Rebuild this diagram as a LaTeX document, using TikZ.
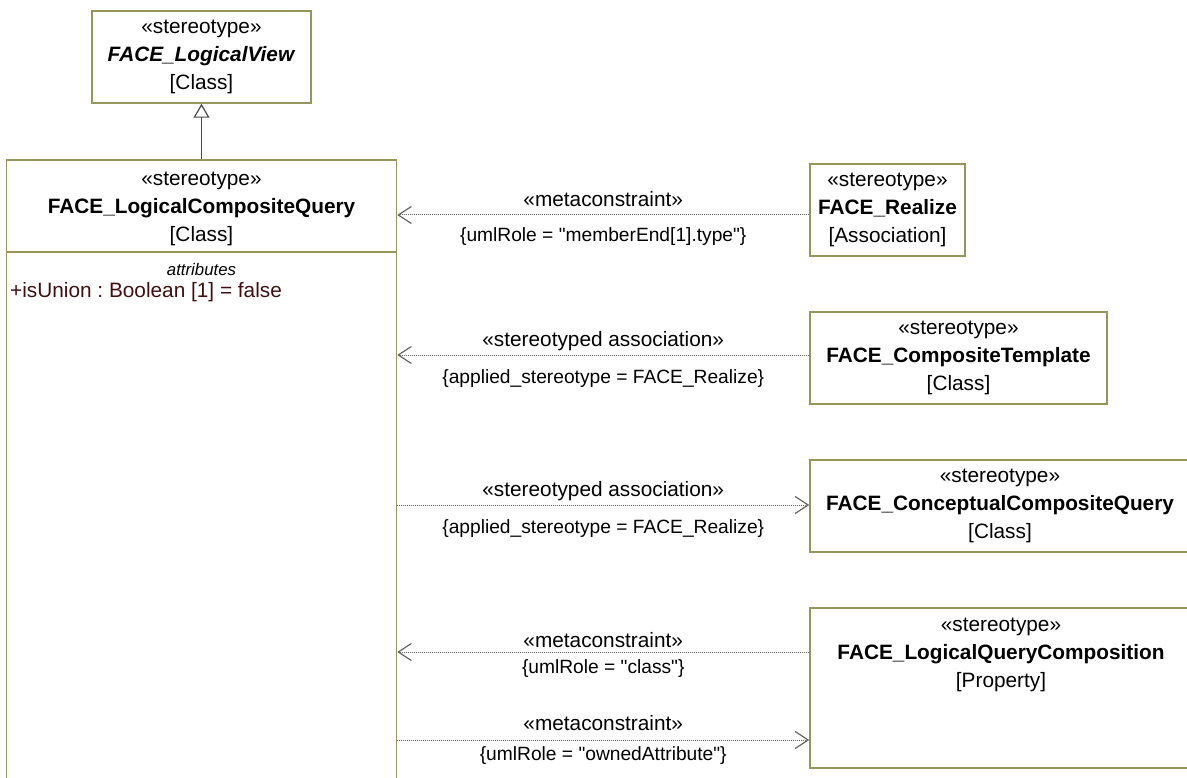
\documentclass[tikz,border=0pt]{standalone}
\usepackage{fontspec}
\setmainfont{Liberation Sans}
\usetikzlibrary{arrows.meta}
\definecolor{umlolive}{RGB}{150,150,92}
\definecolor{umlgray}{RGB}{100,100,100}
\definecolor{umldark}{RGB}{75,75,75}
\definecolor{attrred}{RGB}{64,16,16}
\frenchspacing

\begin{document}
\begin{tikzpicture}[x=1pt, y=-1pt, font=\fontsize{20.8}{27.8}\selectfont]
  \tikzstyle{umlbox} = [draw=umlolive, line width=1.5pt, fill=white, align=center, inner sep=0pt]
  \tikzstyle{conn} = [draw=umlgray, densely dotted, line width=1pt]
  \tikzstyle{barb} = [-{Straight Barb[length=13pt, width=17pt, line width=1.2pt]}]
  \tikzstyle{stereo} = [midway, anchor=base, inner sep=0pt]
  \tikzstyle{constr} = [midway, anchor=base, inner sep=0pt, font=\fontsize{19.2}{23}\selectfont]
  \useasboundingbox (0,0) rectangle (1187,778);
  \clip (0,0) rectangle (1187,778);

  % metaclasses
  \node[umlbox, minimum width=219, minimum height=92] (lview) at (201.5,57)
    {«stereotype»\\\textbf{\textit{FACE\_LogicalView}}\\{[Class]}};
  \node[umlbox, minimum width=390, minimum height=640] (lcq) at (201.5,480) {};
  \node[align=center] (lcqhead) at (201.5,209)
    {«stereotype»\\\textbf{FACE\_LogicalCompositeQuery}\\{[Class]}};
  \coordinate (split) at (0,252);
  \draw[draw=umlolive, line width=1.5pt] (lcq.west |- split) -- (lcq.east |- split);
  \node[font=\fontsize{16.8}{20}\selectfont\itshape] (attrs) at (201.5,269) {attributes};
  \node[anchor=west, inner sep=0pt, text=attrred] (isunion) at (10,292) {+isUnion : Boolean [1] = false};

  \node[umlbox, minimum width=155, minimum height=92] (realize) at (887.5,210)
    {«stereotype»\\\textbf{FACE\_Realize}\\{[Association]}};
  \node[umlbox, minimum width=297, minimum height=92] (ctemplate) at (958.5,358)
    {«stereotype»\\\textbf{FACE\_CompositeTemplate}\\{[Class]}};
  \node[umlbox, minimum width=380, minimum height=92] (ccquery) at (1000,506)
    {«stereotype»\\\textbf{FACE\_ConceptualCompositeQuery}\\{[Class]}};
  \node[umlbox, minimum width=380, minimum height=160] (lqcomp) at (1000,688) {};
  \node[align=center] (lqcomphead) at (1001,655)
    {«stereotype»\\\textbf{FACE\_LogicalQueryComposition}\\{[Property]}};

  % generalization
  \draw[draw=umldark, line width=1.5pt, -{Triangle[open, length=14pt, width=16pt, line width=1.2pt]}] (lcq.north) -- (lview.south);

  % associations
  \draw[conn, barb] ([yshift=-5pt]realize.west) -- ([yshift=-5pt]realize.west -| lcq.east)
    node[stereo, yshift=8.4pt] {«metaconstraint»}
    node[constr, yshift=-27pt] {\{umlRole = \textquotedbl memberEnd[1].type\textquotedbl\}};
  \draw[conn, barb] ([yshift=3pt]ctemplate.west) -- ([yshift=3pt]ctemplate.west -| lcq.east)
    node[stereo, yshift=8.3pt] {«stereotyped association»}
    node[constr, yshift=-28pt] {\{applied\_stereotype = FACE\_Realize\}};
  \draw[conn, barb] ([yshift=1pt]ccquery.west -| lcq.east) -- ([yshift=1pt]ccquery.west)
    node[stereo, yshift=8.3pt] {«stereotyped association»}
    node[constr, yshift=-28pt] {\{applied\_stereotype = FACE\_Realize\}};
  \draw[conn, barb] ([yshift=36pt]lqcomp.west) -- ([yshift=36pt]lqcomp.west -| lcq.east)
    node[stereo, yshift=5pt] {«metaconstraint»}
    node[constr, yshift=-21.5pt] {\{umlRole = \textquotedbl class\textquotedbl\}};
  \draw[conn, barb] ([yshift=-52pt]lqcomp.west -| lcq.east) -- ([yshift=-52pt]lqcomp.west)
    node[stereo, yshift=10pt] {«metaconstraint»}
    node[constr, yshift=-20pt] {\{umlRole = \textquotedbl ownedAttribute\textquotedbl\}};
\end{tikzpicture}
\end{document}
